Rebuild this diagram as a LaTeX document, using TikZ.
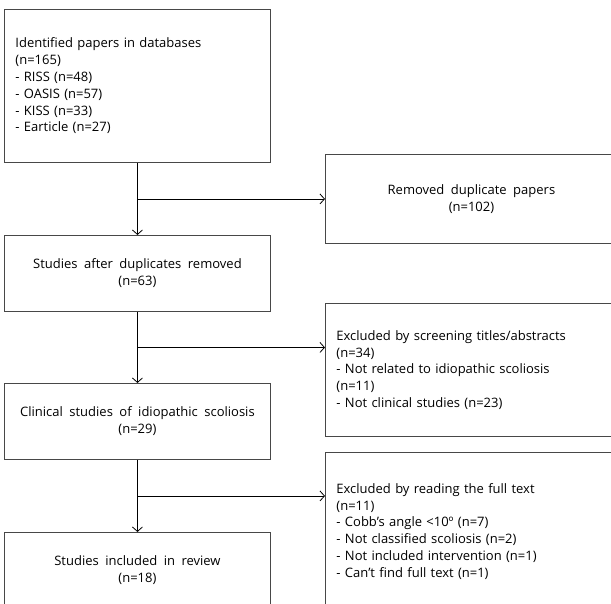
\documentclass[tikz,border=0pt]{standalone}
\usepackage{fontspec}
\setmainfont{Open Sans}
\usetikzlibrary{arrows.meta,calc}
\newcommand\wsp{\spaceskip=0.5em plus 0.1em minus 0.05em\relax}
\begin{document}
\begin{tikzpicture}[x=1pt,y=-1pt,
 box/.style={draw=black!72, line width=0.9pt, inner sep=0pt, anchor=north west,
   font=\fontsize{13}{16.8}\selectfont\wsp},
 lbox/.style={box, align=left},
 cbox/.style={box, align=center},
 lcol/.style={minimum width=266pt, minimum height=76pt},
 rcol/.style={minimum width=292pt},
 arr/.style={line width=0.8pt, -{Straight Barb[length=4.5pt,width=10pt]}}]
\useasboundingbox (0,0) rectangle (611,604);
\clip (0,0) rectangle (611,604);
\node[lbox, lcol, minimum height=153pt, text width=244pt] (b1) at (4,9)
 {Identified papers in databases\\(n=165)\\- RISS (n=48)\\- OASIS (n=57)\\- KISS (n=33)\\- Earticle (n=27)};
\node[cbox, rcol, minimum height=89pt] (b2) at (325,154)
 {Removed duplicate papers\\(n=102)};
\node[cbox, lcol] (b3) at (4,235)
 {Studies after duplicates removed\\(n=63)};
\node[lbox, rcol, minimum height=133pt, text width=270pt] (b4) at (325,303)
 {Excluded by screening titles/abstracts\\(n=34)\\- Not related to idiopathic scoliosis\\(n=11)\\- Not clinical studies (n=23)};
\node[cbox, lcol] (b5) at (4,383)
 {Clinical studies of idiopathic scoliosis\\(n=29)};
\node[lbox, rcol, minimum height=158pt, text width=270pt] (b6) at (325,452)
 {Excluded by reading the full text\\(n=11)\\- Cobb's angle <10º (n=7)\\- Not classified scoliosis (n=2)\\- Not included intervention (n=1)\\- Can't find full text (n=1)};
\node[cbox, lcol] (b7) at (4,532)
 {Studies included in review\\(n=18)};
\coordinate (j1) at ($(b1.south)!0.5!(b3.north)$);
\coordinate (j2) at ($(b3.south)!0.5!(b5.north)$);
\coordinate (j3) at ($(b5.south)!0.5!(b7.north)$);
\draw[arr] (b1.south) -- (b3.north);
\draw[arr] (b3.south) -- (b5.north);
\draw[arr] (b5.south) -- (b7.north);
\draw[arr] (j1) -- (j1 -| b2.west);
\draw[arr] (j2) -- (j2 -| b4.west);
\draw[arr] (j3) -- (j3 -| b6.west);
\end{tikzpicture}
\end{document}
